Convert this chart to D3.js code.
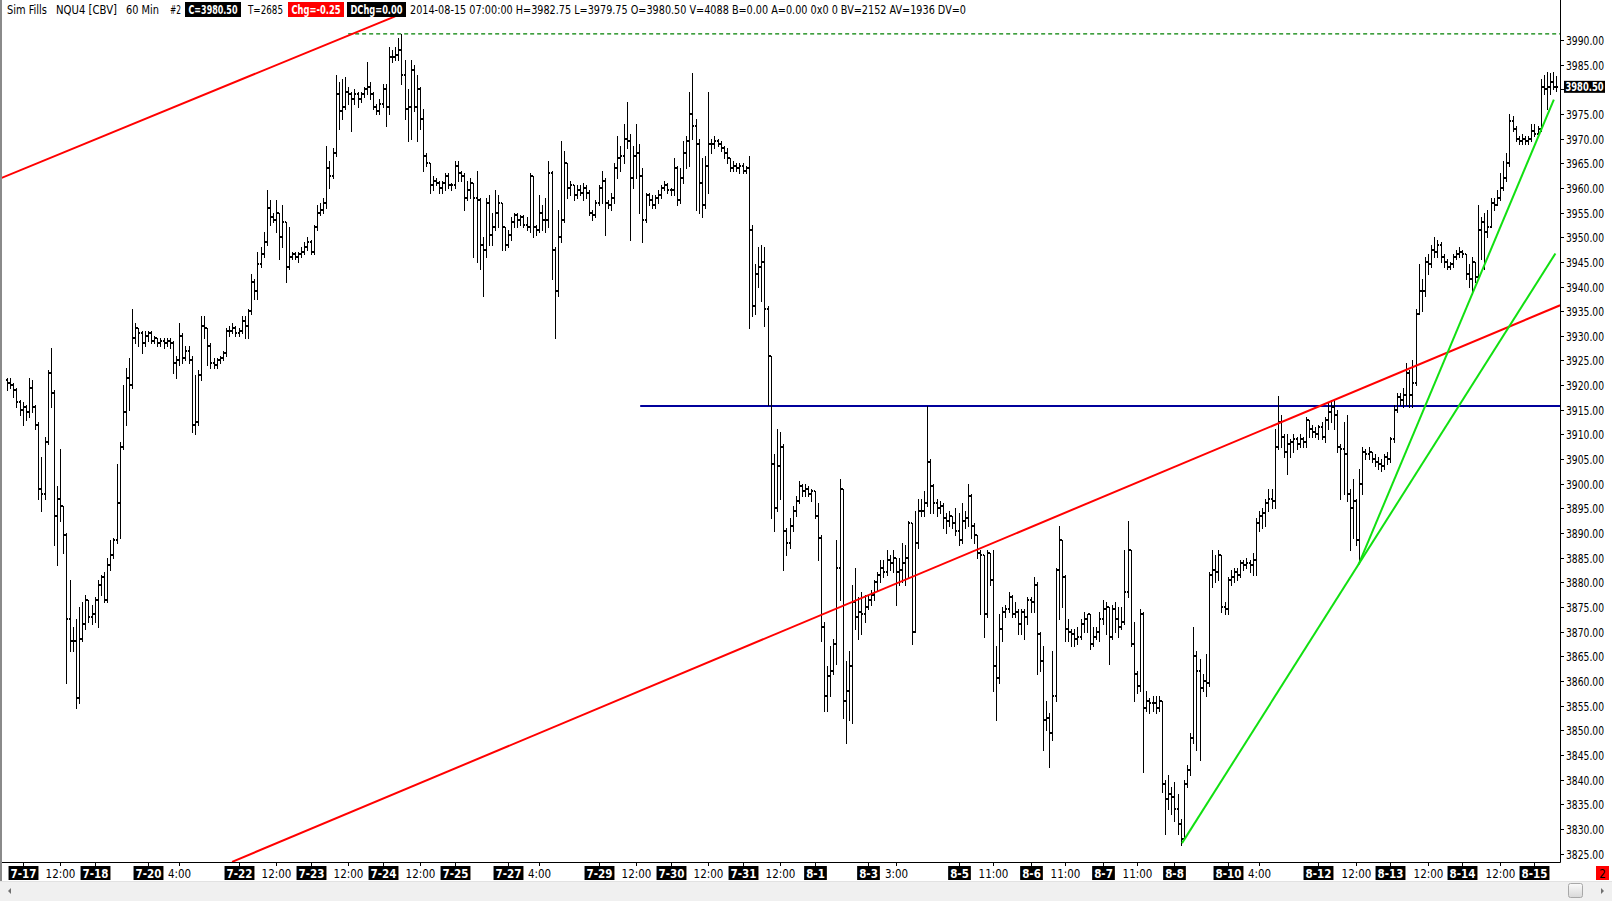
<!DOCTYPE html>
<html><head><meta charset="utf-8">
<script src="https://cdn.jsdelivr.net/npm/d3@7"></script>
<style>body{margin:0;background:#fff;overflow:hidden}svg{display:block}</style>
</head><body>
<svg id="c" width="1612" height="901"></svg>
<script>
// ---------------- DATA (NQU4 60 min, bar index 0..495) ----------------
const opens=[3921,3920.5,3920,3919,3916.5,3915,3915.5,3914.5,3919.5,3915.5,
3912,3899,3898,3908.5,3922.5,3918.5,3893.5,3897,3895.5,3889.5,
3872.5,3868,3868,3856.5,3868.5,3871.5,3876.5,3873,3873.5,3876.5,
3879.5,3881,3876.5,3883.5,3885.5,3888.5,3896,3907.5,3914.5,3921.5,
3920,3929.5,3931.5,3930.5,3928.5,3930,3930.5,3929,3929.5,3928.5,
3929,3928.5,3929,3928.5,3924.5,3925,3930,3925.5,3927,3925,
3912,3912.5,3922,3932,3931.5,3928,3924.5,3924,3925,3925.5,
3926.5,3931,3931,3931.5,3930.5,3931,3933,3932,3935,3941,
3939,3944.5,3946.5,3949,3956,3954,3953.5,3955,3950,3953,
3944,3946,3946.5,3946,3946.5,3947,3948,3949,3947,3952,
3955,3955.5,3957,3964,3962.5,3967,3979,3975.5,3976.5,3979.5,
3979,3978,3979,3978,3979,3980,3980.5,3979,3976.5,3975.5,
3977,3980,3976.5,3986.5,3986.5,3987,3988,3983,3976,3976.5,
3984,3976.5,3980,3974,3966.5,3965,3960.5,3961.5,3961,3960,
3961,3962.5,3960.5,3960.5,3964.5,3963,3962.5,3958,3959.5,3961,
3958,3957.5,3948.5,3947.5,3957,3950.5,3952,3955,3957,3952,
3948.5,3950.5,3953,3954.5,3953.5,3954,3952.5,3952,3962.5,3952,
3951.5,3955,3953.5,3953.5,3963,3947.5,3939,3950,3953.5,3965,
3960,3960.5,3958.5,3959.5,3959,3960,3959,3955,3954.5,3957,
3960,3961.5,3957,3956.5,3958,3964,3966,3966.5,3970,3969.5,
3962,3966.5,3967,3962.5,3953.5,3958.5,3957.5,3956.5,3958,3958.5,
3960,3960.5,3959.5,3959.5,3964,3957.5,3962,3967,3969.5,3975,
3972.5,3969,3961,3956.5,3964.5,3969,3969,3969.5,3969,3968,
3967,3966,3964,3964.5,3964,3964.5,3963.5,3964,3951.5,3936,
3942.5,3944,3945,3935.5,3926,3904,3895,3903.5,3907.5,3890.5,
3888,3891.5,3894.5,3896.5,3899.5,3898.5,3899,3898,3898.5,3893.5,
3889,3871,3857,3861,3862,3867.5,3883,3899,3856,3858,
3863,3876,3873,3874,3873.5,3875,3876.5,3877.5,3880,3881.5,
3883,3882,3884.5,3884,3885,3882,3882.5,3884,3885,3892,
3870,3888,3894.5,3894.5,3896,3904.5,3899.5,3896,3895,3895.5,
3893,3892.5,3893.5,3892,3890.5,3888.5,3892.5,3893,3897.5,3891.5,
3889.5,3886,3885.5,3873.5,3886,3880.5,3863,3860.5,3870.5,3874,
3874.5,3877,3873.5,3874,3871.5,3874,3873,3876.5,3876,3879.5,
3869.5,3864,3852,3852.5,3849.5,3857,3882.5,3888.5,3881,3870.5,
3870,3869.5,3868.5,3869,3871.5,3872.5,3873.5,3867.5,3869,3870,
3872.5,3874.5,3875,3869,3874.5,3872.5,3871,3872,3878,3886.5,
3867.5,3861.5,3859,3873.5,3854.5,3856,3855.5,3855.5,3854.5,3856,
3839,3836,3837,3836.5,3834,3831,3828,3839,3842,3848.5,
3865,3862,3858.5,3860,3859.5,3881.5,3882.5,3882,3885.5,3875,
3874.5,3880.5,3881,3882,3881.5,3884,3883.5,3884,3883.5,3884.5,
3892,3893.5,3894,3896,3897,3896.5,3907.5,3912.5,3909.5,3906.5,
3908,3908.5,3909,3908,3909,3908.5,3913,3911,3910.5,3910,
3911.5,3909.5,3913,3914.5,3915.5,3914,3907.5,3907,3906,3898,
3895,3896.5,3888.5,3900,3906.5,3906,3906.5,3905,3904.5,3904,
3903.5,3905.5,3905,3909,3915,3917.5,3917,3918,3922.5,3918,
3920.5,3934.5,3939,3939,3945,3944.5,3947.5,3947,3948.5,3946,
3945,3944,3944.5,3946,3946.5,3947,3946.5,3942.5,3941.5,3945,
3942,3951.5,3953,3951,3952,3957,3956.5,3958,3960,3962,
3965,3973.5,3972,3970,3969.5,3970,3969.5,3970,3971.5,3971,
3972,3980.5,3980,3980.5,3981.5,3980.5];

const highs=[3921.5,3921.5,3920.5,3919.5,3917,3916.5,3916,3921.5,3921,3916,
3912.5,3905.5,3909.5,3923,3927.5,3919,3899.5,3907,3895.5,3890,
3880.5,3871,3872.5,3875,3876,3877.5,3876.5,3875.5,3877,3880.5,
3881.5,3882,3885,3888.5,3889,3904,3908.5,3920,3923.5,3925.5,
3935.5,3932.5,3931.5,3931,3931,3931,3931,3930,3929.5,3929.5,
3929.5,3929.5,3929.5,3929,3926,3932.5,3930.5,3928,3928,3926,
3922,3923,3934,3934,3931.5,3928.5,3925.5,3925.5,3926,3927,
3931.5,3932,3932.5,3932,3931.5,3934,3934,3935.5,3942.5,3941.5,
3947,3948,3951,3959.5,3957.5,3955,3957.5,3955,3956.5,3953,
3952,3947,3947,3947,3948,3949,3950,3949.5,3952.5,3956.5,
3957,3958,3968.5,3965.5,3968,3983,3981.5,3982,3982.5,3980.5,
3979.5,3980,3979.5,3979.5,3980.5,3985.5,3981.5,3979.5,3977,3978,
3981,3981,3988.5,3988,3988.5,3990.5,3991.25,3986,3980,3986,
3985,3983,3980.5,3976,3967,3965,3962.5,3962,3961.5,3961.5,
3963,3963,3961,3965.5,3965.5,3963.5,3963,3961.5,3962,3961,
3963.5,3958,3950,3958,3958.5,3955,3959.5,3958.5,3957,3952,
3951.5,3954,3955,3955,3954.5,3954.5,3954,3963,3962.5,3952.5,
3958.5,3956.5,3958,3965.5,3963.5,3948,3955.5,3969.5,3967.5,3965,
3961.5,3960.5,3960.5,3960.5,3961,3960.5,3959.5,3955.5,3957.5,3960.5,
3963.5,3962,3957.5,3959,3965,3970.5,3968.5,3973,3977.5,3971,
3968.5,3973,3969,3964,3959,3959,3958.5,3958.5,3959.5,3960.5,
3961.5,3961,3960,3966,3964.5,3964,3969.5,3970.5,3979.5,3983.25,
3974,3970,3966,3966.5,3979.5,3970,3970.5,3970,3969.5,3968.5,
3968,3966,3965.5,3965,3965,3965,3964.5,3966.5,3952.5,3944.5,
3948,3948.5,3948,3936,3926,3906,3911,3910.5,3908,3891,
3893,3895.5,3897.5,3900.5,3900,3900,3899.5,3899,3898.5,3896,
3889.5,3872,3863,3867,3868.5,3888.5,3901,3899,3864,3866,
3879.5,3883,3877,3878,3877.5,3877.5,3878.5,3880.5,3882,3884.5,
3884.5,3886.5,3885.5,3886.5,3885,3885,3888,3887.5,3892.5,3892,
3894.5,3897,3897,3898.5,3915.75,3905,3900,3897,3896.5,3896,
3894,3894.5,3893.5,3895,3894,3896,3894.5,3900,3898,3892,
3889.5,3886.5,3885.5,3886.5,3886,3886.5,3867,3873.5,3875,3875.5,
3878,3877.5,3876,3874.5,3874.5,3874.5,3877,3877,3881,3880,
3870,3867,3856,3853.5,3866,3883,3891.5,3888.5,3881.5,3872.5,
3870.5,3870.5,3871,3872.5,3874,3873.5,3873.5,3871,3871,3874,
3876.5,3876,3875,3875.5,3876,3875,3875,3886.5,3892.5,3886.5,
3872,3862,3874.5,3874,3858,3856.5,3857,3857,3857,3856,
3840,3841,3838.5,3839.5,3837,3832,3840,3843,3849.5,3871,
3866,3864.5,3861.5,3865.5,3882,3886.5,3885.5,3886.5,3885.5,3876,
3881,3882.5,3883,3883,3884.5,3884.5,3885,3884.5,3886,3893,
3894.5,3895,3897,3899,3899,3911,3917.75,3914,3910,3910,
3909,3910,3909.5,3910,3909.5,3913.5,3913,3912,3911.5,3912,
3912.5,3913.5,3916.5,3917,3917,3915,3908,3912.5,3914,3899,
3901,3897,3903,3907.5,3907,3907.5,3906.5,3906,3905.5,3905,
3906,3906.5,3909.5,3916,3918.5,3918.5,3919.5,3924.5,3923,3925,
3935.5,3944.5,3941.5,3946,3946.5,3948.5,3950,3949.5,3949,3946.5,
3945.5,3945,3946.5,3947.5,3948,3947.5,3946.5,3944.5,3946,3945,
3956.5,3954,3955,3955.5,3958,3958,3959.5,3963,3965.5,3967,
3975,3974.5,3972.5,3970.5,3971,3970.5,3970.5,3973,3973,3972.5,
3982,3983,3983.5,3983.25,3983.5,3982.75];

const lows=[3919,3919.5,3917.5,3915.5,3914,3912,3913,3913.5,3914.5,3911,
3897,3894.5,3897,3908,3915.5,3887.5,3883.5,3892.5,3886,3859.5,
3866,3866,3854.5,3855.5,3868,3870.5,3872,3871.5,3872,3871,
3877.5,3876,3876,3882.5,3885,3888,3889,3907,3912,3915,
3919.5,3928.5,3928,3926.5,3928,3929,3928.5,3928.5,3928,3928,
3927.5,3928,3927.5,3922.5,3921.5,3924,3924.5,3925,3924.5,3910.5,
3910,3912,3921,3929.5,3924,3923.5,3923.5,3923.5,3924.5,3925,
3926,3930,3930.5,3930,3930,3930.5,3929.5,3929.5,3934.5,3937.5,
3937.5,3944,3946,3948.5,3952.5,3953,3951,3945.5,3948,3941,
3943.5,3945.5,3945.5,3945,3946,3946.5,3947.5,3946.5,3946.5,3951.5,
3954.5,3955,3956,3960,3962,3966.5,3972,3974,3976,3977,
3971.5,3977,3976.5,3977.5,3978.5,3979,3978,3976,3975,3975,
3976.5,3972.5,3975,3985.5,3986,3986,3981,3974,3969.5,3970,
3975.5,3969.5,3972,3963.5,3964.5,3959,3959.5,3960.5,3959,3959,
3959.5,3960,3959.5,3960,3961.5,3961.5,3955.5,3957.5,3958,3946,
3945,3943.5,3938,3946,3948.5,3948.5,3951.5,3952,3947.5,3947.5,
3948,3949.5,3952,3952,3952.5,3952,3951.5,3951,3950,3950.5,
3951,3951.5,3951,3952,3941.5,3929.5,3938,3949,3953,3958,
3958.5,3957.5,3958,3958.5,3957.5,3958,3954.5,3953.5,3954,3956.5,
3957,3950.5,3956,3955.5,3957,3962,3963.5,3965,3968,3949.5,
3960,3962,3955,3949,3953,3956.5,3956,3956,3957,3958,
3959.5,3959,3958.5,3958.5,3956.5,3957,3961,3964,3964.5,3970,
3955.5,3955,3954,3956,3959,3967,3968,3968.5,3967.5,3966,
3965,3963.5,3963.5,3963.5,3963,3963,3963,3931.5,3934,3934.5,
3940,3937,3932,3916,3893,3890.5,3894.5,3897,3882.5,3885.5,
3887,3890.5,3893.5,3896,3897.5,3897.5,3897.5,3896.5,3893,3884.5,
3868,3854,3854,3857,3861.5,3863.5,3876.5,3852.5,3847.5,3852,
3851.5,3870.5,3868.5,3869.5,3872,3874.5,3875.5,3876.5,3878.5,3880,
3881,3881.5,3882.5,3882,3875.5,3879.5,3880,3879.5,3881,3867.5,
3870,3887,3893.5,3893.5,3895.5,3894,3894,3893.5,3894,3891,
3890,3891.5,3891,3889.5,3887.5,3888,3891,3891.5,3889,3888,
3885,3873.5,3869,3873,3879.5,3858,3852,3859.5,3868,3873,
3874,3873,3873,3869.5,3869.5,3868.5,3871.5,3874,3874,3861.5,
3862,3846,3850,3842.5,3848,3856,3872.5,3875,3868,3868,
3867,3867,3867.5,3868.5,3870,3870,3866.5,3867,3868.5,3868,
3871.5,3869.5,3863.5,3868.5,3870,3869,3870.5,3871.5,3877,3867,
3856,3857.5,3858,3841.5,3854,3853.5,3854,3853.5,3854,3837.5,
3829,3834,3833,3831.5,3829,3826.75,3828,3838.5,3841,3847.5,
3846,3844,3858,3857,3859,3879,3880,3880.5,3874,3873.5,
3873.5,3879.5,3880,3880.5,3881,3882.5,3883,3882,3881.5,3881.5,
3890.5,3891,3891.5,3894.5,3895,3895,3907,3907.5,3905.5,3902,
3905.5,3906.5,3907,3907.5,3907.5,3907.5,3909.5,3909.5,3909.5,3909,
3909,3908.5,3911,3912.5,3911,3906.5,3897,3898,3896.5,3886.5,
3889,3887.5,3884,3898,3905,3905,3904.5,3903.5,3903,3902.5,
3903,3904,3904.5,3908.5,3914.5,3916,3915.5,3916,3915.5,3915.5,
3920,3934.5,3935,3938,3942.5,3944,3946,3946,3945,3944,
3943.5,3943.5,3944,3945.5,3946,3946,3941.5,3940,3938.5,3941,
3941.5,3945.5,3943.5,3950,3952,3955.5,3956.5,3957.5,3959.5,3961.5,
3964.5,3971.5,3969.5,3969,3969,3969,3969,3969.5,3970.5,3970.5,
3971.5,3979,3976,3979,3980,3979.75];

const closes=[3920.5,3920,3919,3916.5,3915,3915.5,3914.5,3919.5,3915.5,3912,
3899,3898,3908.5,3922.5,3918.5,3893.5,3897,3895.5,3889.5,3872.5,
3868,3868,3856.5,3868.5,3871.5,3876.5,3873,3873.5,3876.5,3879.5,
3881,3876.5,3883.5,3885.5,3888.5,3896,3907.5,3914.5,3921.5,3920,
3929.5,3931.5,3930.5,3928.5,3930,3930.5,3929,3929.5,3928.5,3929,
3928.5,3929,3928.5,3924.5,3925,3930,3925.5,3927,3925,3912,
3912.5,3922,3932,3931.5,3928,3924.5,3924,3925,3925.5,3926.5,
3931,3931,3931.5,3930.5,3931,3933,3932,3935,3941,3939,
3944.5,3946.5,3949,3956,3954,3953.5,3955,3950,3953,3944,
3946,3946.5,3946,3946.5,3947,3948,3949,3947,3952,3955,
3955.5,3957,3964,3962.5,3967,3979,3975.5,3976.5,3979.5,3979,
3978,3979,3978,3979,3980,3980.5,3979,3976.5,3975.5,3977,
3980,3976.5,3986.5,3986.5,3987,3988,3983,3976,3976.5,3984,
3976.5,3980,3974,3966.5,3965,3960.5,3961.5,3961,3960,3961,
3962.5,3960.5,3960.5,3964.5,3963,3962.5,3958,3959.5,3961,3958,
3957.5,3948.5,3947.5,3957,3950.5,3952,3955,3957,3952,3948.5,
3950.5,3953,3954.5,3953.5,3954,3952.5,3952,3962.5,3952,3951.5,
3955,3953.5,3953.5,3963,3947.5,3939,3950,3953.5,3965,3960,
3960.5,3958.5,3959.5,3959,3960,3959,3955,3954.5,3957,3960,
3961.5,3957,3956.5,3958,3964,3966,3966.5,3970,3969.5,3962,
3966.5,3967,3962.5,3953.5,3958.5,3957.5,3956.5,3958,3958.5,3960,
3960.5,3959.5,3959.5,3964,3957.5,3962,3967,3969.5,3975,3972.5,
3969,3961,3956.5,3964.5,3969,3969,3969.5,3969,3968,3967,
3966,3964,3964.5,3964,3964.5,3963.5,3964,3951.5,3936,3942.5,
3944,3945,3935.5,3926,3904,3895,3903.5,3907.5,3890.5,3888,
3891.5,3894.5,3896.5,3899.5,3898.5,3899,3898,3898.5,3893.5,3889,
3871,3857,3861,3862,3867.5,3883,3899,3856,3858,3863,
3876,3873,3874,3873.5,3875,3876.5,3877.5,3880,3881.5,3883,
3882,3884.5,3884,3885,3882,3882.5,3884,3885,3892,3870,
3888,3894.5,3894.5,3896,3904.5,3899.5,3896,3895,3895.5,3893,
3892.5,3893.5,3892,3890.5,3888.5,3892.5,3893,3897.5,3891.5,3889.5,
3886,3885.5,3873.5,3886,3880.5,3863,3860.5,3870.5,3874,3874.5,
3877,3873.5,3874,3871.5,3874,3873,3876.5,3876,3879.5,3869.5,
3864,3852,3852.5,3849.5,3857,3882.5,3888.5,3881,3870.5,3870,
3869.5,3868.5,3869,3871.5,3872.5,3873.5,3867.5,3869,3870,3872.5,
3874.5,3875,3869,3874.5,3872.5,3871,3872,3878,3886.5,3867.5,
3861.5,3859,3873.5,3854.5,3856,3855.5,3855.5,3854.5,3856,3839,
3836,3837,3836.5,3834,3831,3828,3839,3842,3848.5,3865,
3862,3858.5,3860,3859.5,3881.5,3882.5,3882,3885.5,3875,3874.5,
3880.5,3881,3882,3881.5,3884,3883.5,3884,3883.5,3884.5,3892,
3893.5,3894,3896,3897,3896.5,3907.5,3912.5,3909.5,3906.5,3908,
3908.5,3909,3908,3909,3908.5,3913,3911,3910.5,3910,3911.5,
3909.5,3913,3914.5,3915.5,3914,3907.5,3907,3906,3898,3895,
3896.5,3888.5,3900,3906.5,3906,3906.5,3905,3904.5,3904,3903.5,
3905.5,3905,3909,3915,3917.5,3917,3918,3922.5,3918,3920.5,
3934.5,3939,3939,3945,3944.5,3947.5,3947,3948.5,3946,3945,
3944,3944.5,3946,3946.5,3947,3946.5,3942.5,3941.5,3945,3942,
3951.5,3953,3951,3952,3957,3956.5,3958,3960,3962,3965,
3973.5,3972,3970,3969.5,3970,3969.5,3970,3971.5,3971,3972,
3980.5,3980,3980.5,3981.5,3980.5,3980.5];

// time-axis labels: bar index of each label and its text
const tickIndex=[5,17,28,45,55,74,86,97,109,120,132,143,160,170,189,201,212,224,235,247,258,275,284,304,315,327,338,350,361,373,390,400,419,431,442,454,465,477,488];
const tickLabels=["7-17","12:00","7-18","7-20","4:00","7-22","12:00","7-23","12:00","7-24","12:00","7-25","7-27","4:00","7-29","12:00","7-30","12:00","7-31","12:00","8-1","8-3","3:00","8-5","11:00","8-6","11:00","8-7","11:00","8-8","8-10","4:00","8-12","12:00","8-13","12:00","8-14","12:00","8-15"];
// price-axis ticks
const priceTicks=[3825,3830,3835,3840,3845,3850,3855,3860,3865,3870,3875,3880,3885,3890,3895,3900,3905,3910,3915,3920,3925,3930,3935,3940,3945,3950,3955,3960,3965,3970,3975,3980,3985,3990];
const lastPrice=3980.5;
// drawn studies: [barIndex, price] end points
const redUpper=[[-2.24,3961.9],[124,3994.8]];
const redLower=[[71.9,3823.3],[496.2,3936.2]];
const blueLevel=[[202.3,3915.75],[496.2,3915.75]];
const greenDashed=[[109,3991.25],[496.2,3991.25]];
const greenSlow=[[375.4,3827.1],[494.7,3946.7]];
const greenFast=[[431.8,3883.6],[494.2,3977.9]];
// header: [text, x, width]
const headerPlain=[["Sim Fills",7,40],["NQU4 [CBV]",56,61],["60 Min",126,33],["#2",170,11],["T=2685",248,35]];
const headerBoxes=[["C=3980.50",185,56,"#000"],["Chg=-0.25",288,56,"#f00"],["DChg=0.00",347,59,"#000"]];
const headerTail="2014-08-15 07:00:00 H=3982.75 L=3979.75 O=3980.50 V=4088 B=0.00 A=0.00 0x0 0 BV=2152 AV=1936 DV=0";

// ---------------- DRAW ----------------
const svg=d3.select("#c");
const PR=1560, PB=862;
const FONT="'DejaVu Sans Condensed','Liberation Sans Narrow','DejaVu Sans',sans-serif";
const x=d3.scaleLinear().domain([0,495]).range([7,7+495*3.13]);
const y=d3.scaleLinear().domain([3825,3990]).range([853.5,40]);

svg.append("rect").attr("width",1612).attr("height",901).attr("fill","#fff");
svg.append("defs").append("clipPath").attr("id","plot").append("rect")
  .attr("x",2).attr("y",0).attr("width",PR-2).attr("height",PB);

const gp=svg.append("g").attr("clip-path","url(#plot)");

const line=d3.line().x(d=>x(d[0])).y(d=>y(d[1]));
gp.append("path").attr("d",line(greenDashed)).attr("stroke","#008000").attr("stroke-width",1.3).attr("stroke-dasharray","4,3").attr("fill","none");
gp.append("path").attr("d",line(blueLevel)).attr("stroke","#00009c").attr("stroke-width",2).attr("fill","none");

// OHLC bars
const gb=gp.append("g").attr("fill","#000").attr("shape-rendering","crispEdges");
closes.forEach((c,i)=>{
  const cx=Math.round(x(i));
  const yh=Math.round(y(highs[i])), yl=Math.round(y(lows[i]));
  gb.append("rect").attr("x",cx).attr("y",yh).attr("width",1).attr("height",Math.max(1,yl-yh+1));
  gb.append("rect").attr("x",cx-1).attr("y",Math.round(y(opens[i]))-1).attr("width",1).attr("height",2);
  gb.append("rect").attr("x",cx+1).attr("y",Math.round(y(c))-1).attr("width",1).attr("height",2);
});

[redUpper,redLower].forEach(l=>gp.append("path").attr("d",line(l)).attr("stroke","#ff0000").attr("stroke-width",2).attr("fill","none"));
[greenSlow,greenFast].forEach(l=>gp.append("path").attr("d",line(l)).attr("stroke","#11e011").attr("stroke-width",2).attr("fill","none"));

// frame
svg.append("rect").attr("x",0).attr("y",0).attr("width",2).attr("height",881).attr("fill","#8a8a8a");
svg.append("line").attr("x1",2).attr("x2",PR+0.5).attr("y1",PB+0.5).attr("y2",PB+0.5).attr("stroke","#000");
svg.append("line").attr("x1",PR+0.5).attr("x2",PR+0.5).attr("y1",0).attr("y2",PB+0.5).attr("stroke","#000");

// price axis
const ga=svg.append("g");
const ly=y(lastPrice);
priceTicks.forEach(p=>{
  const yy=Math.round(y(p))+0.5;
  ga.append("line").attr("x1",PR).attr("x2",PR+4).attr("y1",yy).attr("y2",yy).attr("stroke","#000");
  if(Math.abs(y(p)-ly)<12) return; // hidden under the last-price box
  ga.append("text").attr("x",1566).attr("y",yy+4).attr("font-family",FONT).attr("font-size",11.5)
    .attr("textLength",38).attr("lengthAdjust","spacingAndGlyphs").attr("fill","#000").text(p.toFixed(2));
});
svg.append("rect").attr("x",1564).attr("y",ly-6).attr("width",41).attr("height",12).attr("fill","#000");
svg.append("text").attr("x",1565.5).attr("y",ly+4).attr("font-family",FONT).attr("font-size",11.5).attr("font-weight","bold")
  .attr("textLength",38).attr("lengthAdjust","spacingAndGlyphs").attr("fill","#fff").text(lastPrice.toFixed(2));

// time axis
const gt=svg.append("g");
tickIndex.forEach((ti,k)=>{
  const cx=Math.round(x(ti))+0.5;
  const lab=tickLabels[k], isDate=lab.indexOf("-")>=0;
  gt.append("line").attr("x1",cx).attr("x2",cx).attr("y1",PB).attr("y2",PB+4).attr("stroke","#000");
  const t=gt.append("text").attr("x",cx).attr("y",877.5).attr("text-anchor","middle").attr("font-family",FONT)
    .attr("font-size",11.5).attr("font-weight",isDate?"bold":"normal").attr("fill",isDate?"#fff":"#000").text(lab);
  if(isDate){
    const w=t.node().getComputedTextLength();
    gt.insert("rect","text").attr("x",cx-w/2-2).attr("y",866).attr("width",w+4).attr("height",14).attr("fill","#000");
  }
});
svg.append("rect").attr("x",1596).attr("y",866).attr("width",13).attr("height",14).attr("fill","#ff0000");
svg.append("text").attr("x",1602.5).attr("y",877.5).attr("text-anchor","middle").attr("font-family",FONT).attr("font-size",11.5).attr("fill","#000").text("2");

// scrollbar
svg.append("rect").attr("x",0).attr("y",881).attr("width",1612).attr("height",20).attr("fill","#f0f0f0");
svg.append("line").attr("x1",0).attr("x2",1612).attr("y1",881.5).attr("y2",881.5).attr("stroke","#e2e2e2");
svg.append("path").attr("d","M8,891 L11,888 L11,894 Z").attr("fill","#707070");
svg.append("path").attr("d","M1604,891 L1601,888 L1601,894 Z").attr("fill","#707070");
const gr=svg.append("defs").append("linearGradient").attr("id","thumb").attr("x1",0).attr("x2",0).attr("y1",0).attr("y2",1);
gr.append("stop").attr("offset",0).attr("stop-color","#fbfbfb");
gr.append("stop").attr("offset",1).attr("stop-color","#d8d8d8");
svg.append("rect").attr("x",1568.5).attr("y",883.5).attr("width",14).attr("height",14).attr("rx",2).attr("fill","url(#thumb)").attr("stroke","#a8a8a8");

// header
const gh=svg.append("g").attr("font-family",FONT).attr("font-size",11.5);
headerPlain.forEach(([t,hx,w])=>gh.append("text").attr("x",hx).attr("y",14).attr("fill","#000")
  .attr("textLength",w).attr("lengthAdjust","spacingAndGlyphs").text(t));
headerBoxes.forEach(([t,hx,w,col])=>{
  gh.append("rect").attr("x",hx).attr("y",2).attr("width",w).attr("height",15).attr("fill",col);
  gh.append("text").attr("x",hx+w/2).attr("y",14).attr("text-anchor","middle").attr("fill","#fff").attr("font-weight","bold")
    .attr("textLength",w-7).attr("lengthAdjust","spacingAndGlyphs").text(t);
});
gh.append("text").attr("x",410).attr("y",14).attr("fill","#000").attr("textLength",556).attr("lengthAdjust","spacingAndGlyphs").text(headerTail);
</script>
</body></html>
